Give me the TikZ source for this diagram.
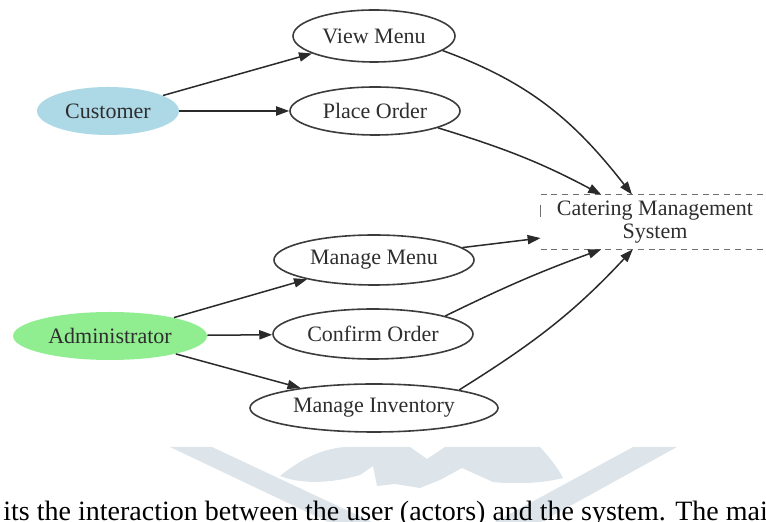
\documentclass[tikz,border=0pt]{standalone}
\usepackage{fontspec}
\setmainfont{Liberation Serif}
\usepackage{xcolor}
\usepackage{tikz}
\usetikzlibrary{arrows.meta,shapes.geometric}
\definecolor{ink}{HTML}{2E2E2E}
\definecolor{edge}{HTML}{2A2A2A}
\definecolor{outline}{HTML}{3C3C3C}
\definecolor{actorblue}{HTML}{ADD8E6}
\definecolor{actorgreen}{HTML}{90EE90}
\definecolor{dashgray}{HTML}{707070}
\definecolor{wmark}{HTML}{DDE4EA}
\tikzset{
  actor/.style={ellipse, inner sep=0pt, text=ink, font=\fontsize{11}{13}\selectfont},
  usecase/.style={ellipse, draw=outline, line width=0.8pt, inner sep=0pt, text=ink, font=\fontsize{11}{13}\selectfont},
  sysnode/.style={rectangle, inner sep=0pt, align=center, text=ink, font=\fontsize{11}{11.5}\selectfont, minimum width=114pt, minimum height=27pt},
  sysline/.style={draw=dashgray, line width=0.8pt, dash pattern=on 3pt off 2.4pt},
  flow/.style={draw=edge, line width=0.75pt, -{Triangle[length=6.5pt,width=4.6pt]}},
  wm/.style={fill=wmark, draw=none},
  body/.style={text=black, font=\fontsize{14}{16}\selectfont, inner sep=0pt},
}

\begin{document}
\begin{tikzpicture}[x=0.5pt, y=-0.5pt]
  \useasboundingbox (0,0) rectangle (766,522);

  \fill[wm] (170,447) -- (212,447) -- (372,522) -- (328,522) -- cycle;
  \fill[wm] (633,447) -- (677,447) -- (541,522) -- (495,522) -- cycle;
  \fill[wm] (280,476) .. controls (300,460) and (320,449) .. (345,447) -- (410,447) -- (427,459)
    -- (445,447) -- (540,447) .. controls (550,458) and (558,468) .. (563,478)
    .. controls (540,484) and (510,484) .. (493,482) -- (473,473) -- (462,468) -- (440,480)
    -- (420,488) -- (395,484) -- (377,486) -- (373,466) -- (360,475)
    .. controls (330,484) and (300,484) .. (280,476) -- cycle;

  \node[actor, fill=actorblue, minimum width=71pt, minimum height=24pt] (cust) at (108,111) {Customer};
  \node[actor, fill=actorgreen, minimum width=97pt, minimum height=24pt] (admin) at (110,336) {Administrator};
  \node[usecase, minimum width=81pt, minimum height=26pt] (viewmenu) at (374,36) {View Menu};
  \node[usecase, minimum width=85pt, minimum height=24pt] (placeorder) at (375,111) {Place Order};
  \node[usecase, minimum width=100pt, minimum height=25pt] (managemenu) at (374,260) {Manage Menu};
  \node[usecase, minimum width=100pt, minimum height=25pt] (confirmorder) at (373,334) {Confirm Order};
  \node[usecase, minimum width=124pt, minimum height=24pt] (manageinv) at (374,408) {Manage Inventory};
  \node[sysnode] (cms) at (655,222) {Catering Management\\System};

  \draw[sysline] (cms.north west) -- (cms.north east);
  \draw[sysline] (cms.south west) -- (cms.south east);
  \draw[sysline, solid] ([yshift=-5pt]cms.north west) -- ([yshift=-11pt]cms.north west);

  \draw[flow] (cust) -- (viewmenu);
  \draw[flow] (cust) -- (placeorder);
  \draw[flow] (admin) -- (managemenu);
  \draw[flow] (admin) -- (confirmorder);
  \draw[flow] (admin) -- (manageinv);
  \draw[flow] (viewmenu.-12) to[out=-20,in=128] (cms.130);
  \draw[flow] (placeorder.-15) to[out=-17,in=152] (cms.153);
  \draw[flow] (managemenu.8) -- (cms.188);
  \draw[flow] (confirmorder.14) to[out=26,in=-160] (cms.207);
  \draw[flow] (manageinv.12) to[out=32,in=-133] (cms.231);

  \node[body, anchor=base west] (bodyline) at (3,521) {its the interaction between the user (actors) and the system. The main};
\end{tikzpicture}
\end{document}
